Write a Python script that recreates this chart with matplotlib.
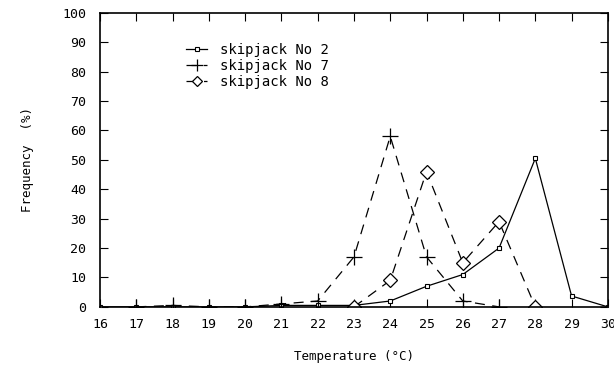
import matplotlib
matplotlib.use("Agg")
import matplotlib.pyplot as plt

temps = list(range(16, 31))
no2_x = [16, 17, 18, 19, 20, 21, 22, 23, 24, 25, 26, 27, 28, 29, 30]
no2_y = [0, 0, 0, 0, 0, 0.5, 0.5, 0.5, 2, 7, 11, 20, 50.5, 3.7, 0]
no7_x = [17, 18, 19, 20, 21, 22, 23, 24, 25, 26, 27]
no7_y = [0, 0.5, 0, 0, 1, 2, 17, 58, 17, 2, 0]
no8_x = [23, 24, 25, 26, 27, 28]
no8_y = [0, 9, 46, 15, 29, 0]
yticks = list(range(0, 101, 10))

plt.rcParams['font.family'] = ['DejaVu Sans Mono']
fig = plt.figure(figsize=(6.14, 3.77), dpi=100)
ax = fig.add_axes([0.163, 0.186, 0.827, 0.780])

ax.plot(no2_x, no2_y, '-', color='black', lw=0.9, marker='s', ms=3,
        mfc='white', mew=0.8, label='skipjack No 2')
ax.plot(no7_x, no7_y, color='black', lw=0.9, ls=(0, (8, 6)), marker='+',
        ms=11, mew=0.9, label='skipjack No 7')
ax.plot(no8_x, no8_y, color='black', lw=0.9, ls=(0, (8, 6)), marker='D',
        ms=7, mfc='white', mew=0.9, label='skipjack No 8')

ax.set_xlim(16, 30)
ax.set_ylim(0, 100)
ax.set_xticks(temps)
ax.set_yticks(yticks)
ax.tick_params(direction='in', top=True, right=True, length=6, labelsize=9.5)
ax.tick_params(axis='x', pad=8)
ax.tick_params(axis='y', pad=10)
for s in ax.spines.values():
    s.set_linewidth(1.2)
ax.set_xlabel('Temperature (°C)', fontsize=9, labelpad=14)
ax.set_ylabel('Frequency  (%)', fontsize=9, labelpad=20)

leg = ax.legend(loc='upper left', bbox_to_anchor=(0.145, 0.94), frameon=False,
                fontsize=10, handlelength=1.5, labelspacing=0.15,
                handletextpad=0.9, markerscale=0.75)

fig.savefig('out.png', dpi=100)
